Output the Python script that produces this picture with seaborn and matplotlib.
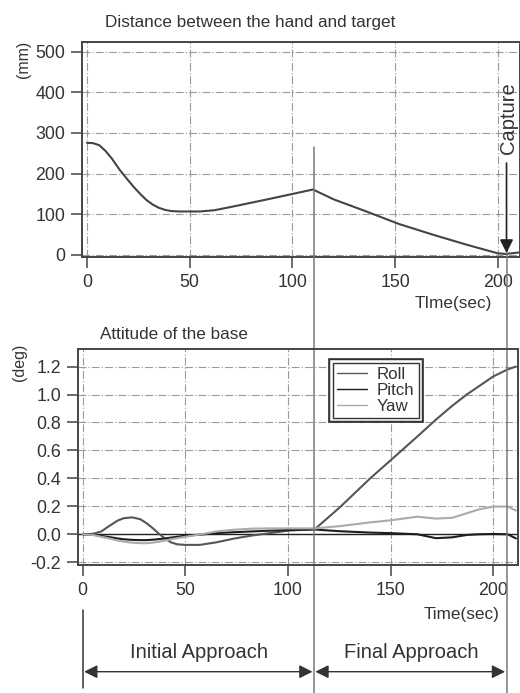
import numpy as np
import pandas as pd
import seaborn as sns
import matplotlib
matplotlib.use("Agg")
import matplotlib.pyplot as plt
import matplotlib.patheffects as pe
from matplotlib.transforms import blended_transform_factory

# ---- distance between the hand and the target (mm) ----
dist_time = [0, 3, 6, 9, 12, 16, 20, 23, 26, 29, 32, 35, 38, 41, 45, 55, 62,
             71, 88, 100, 110, 120, 136, 152, 169, 185, 200, 204, 210]
distance = [276, 275, 270, 256, 238, 209, 184, 166, 150, 135, 124, 116, 111,
            108, 107, 107, 110, 119, 137, 150, 161, 137, 107, 76, 49, 25, 4,
            2.5, 6]

# ---- attitude of the base (deg) ----
att_time = [0, 5, 9, 13, 17, 20, 24, 28, 31, 34, 37, 40, 43, 46, 50, 57, 65,
            74, 82, 90, 100, 113, 125, 140, 150, 163, 172, 180, 187, 193, 200,
            207, 211]
roll = [0.000, 0.003, 0.020, 0.060, 0.098, 0.115, 0.121, 0.108, 0.080, 0.045,
        0.005, -0.030, -0.058, -0.072, -0.076, -0.076, -0.058, -0.030, -0.010,
        0.006, 0.026, 0.036, 0.19, 0.40, 0.53, 0.70, 0.82, 0.92, 1.00, 1.06,
        1.13, 1.18, 1.20]
pitch = [0.000, -0.003, -0.012, -0.020, -0.030, -0.036, -0.040, -0.042,
         -0.042, -0.039, -0.035, -0.030, -0.024, -0.018, -0.010, -0.003, 0.008,
         0.015, 0.020, 0.025, 0.030, 0.034, 0.022, 0.012, 0.008, 0.000, -0.028,
         -0.022, -0.005, 0.000, 0.002, 0.000, -0.030]
yaw = [0.000, -0.005, -0.018, -0.030, -0.045, -0.053, -0.060, -0.064, -0.064,
       -0.060, -0.054, -0.045, -0.036, -0.028, -0.018, -0.002, 0.020, 0.033,
       0.040, 0.042, 0.042, 0.042, 0.058, 0.085, 0.100, 0.126, 0.112, 0.118,
       0.150, 0.178, 0.198, 0.198, 0.170]

series_names = ["Roll", "Pitch", "Yaw"]
series_colors = ["#555555", "#1e1e1e", "#ababab"]

dist_ticks = [0, 100, 200, 300, 400, 500]
att_ticks = [-0.2, 0.0, 0.2, 0.4, 0.6, 0.8, 1.0, 1.2]
time_ticks = [0, 50, 100, 150, 200]

# phase boundaries (s)
t_switch = 112.6
t_capture = 206.4

sns.set_style("white")
plt.rcParams["font.family"] = ["Liberation Sans", "DejaVu Sans"]
TXT = "#333333"
SPINE = "#444444"

fig = plt.figure(figsize=(5.2, 6.93), dpi=100)
ax1 = fig.add_axes([0.1577, 0.6292, 0.8423, 0.3109])
ax2 = fig.add_axes([0.1500, 0.1843, 0.8462, 0.3117])

grid_kw = dict(color="#9a9a9a", linewidth=0.8, linestyle=(0, (7, 2, 1, 2)))


def style_axes(ax):
    for s in ax.spines.values():
        s.set_color(SPINE)
        s.set_linewidth(1.4)
    ax.tick_params(direction="out", length=8, width=1.1, color=SPINE,
                   labelsize=12.8, labelcolor=TXT, pad=4,
                   bottom=True, left=True)
    ax.grid(True, **grid_kw)
    ax.set_axisbelow(True)
    ax.set_xlabel("")
    ax.set_ylabel("")


# top panel
sns.lineplot(x=dist_time, y=distance, ax=ax1, color="#444444", linewidth=1.5)
ax1.set_xlim(-2.4, 210.8)
ax1.set_ylim(-4.9, 525)
ax1.set_xticks(time_ticks)
ax1.set_yticks(dist_ticks)
style_axes(ax1)
ax1.text(0.0525, 1.086, "Distance between the hand and target",
         transform=ax1.transAxes, ha="left", va="center", fontsize=12.3,
         color=TXT)
ax1.text(0.936, -0.218, "TIme(sec)", transform=ax1.transAxes, ha="right",
         va="center", fontsize=12.3, color=TXT)
ax1.text(-0.1347, 0.919, "(mm)", transform=ax1.transAxes, rotation=90,
         ha="center", va="center", fontsize=11.5, color=TXT)

# bottom panel
att = pd.DataFrame({
    "time": att_time * 3,
    "value": roll + pitch + yaw,
    "axis": [n for n in series_names for _ in att_time],
})
ax2.axhline(0, color="#222222", linewidth=1.0, zorder=1.5)
sns.lineplot(data=att, x="time", y="value", hue="axis",
             hue_order=series_names, palette=series_colors, ax=ax2,
             linewidth=1.5, sort=False)
ax2.set_xlim(-2.3, 212.0)
ax2.set_ylim(-0.222, 1.324)
ax2.set_xticks(time_ticks)
ax2.set_yticks(att_ticks)
ax2.set_yticklabels([f"{v:.1f}" for v in att_ticks])
style_axes(ax2)
ax2.text(0.05, 1.069, "Attitude of the base", transform=ax2.transAxes,
         ha="left", va="center", fontsize=12.3, color=TXT)
ax2.text(0.959, -0.230, "Time(sec)", transform=ax2.transAxes, ha="right",
         va="center", fontsize=12.3, color=TXT)
ax2.text(-0.132, 0.941, "(deg)", transform=ax2.transAxes, rotation=90,
         ha="center", va="center", fontsize=11.5, color=TXT)

handles, labels = ax2.get_legend_handles_labels()
leg = ax2.legend(handles, labels, loc="upper left",
                 bbox_to_anchor=(333 / 520, 1 - 363 / 693),
                 bbox_transform=fig.transFigure, borderaxespad=0,
                 fontsize=12.2, handlelength=1.75, handletextpad=0.6,
                 labelspacing=0.05, borderpad=0.25, frameon=True,
                 fancybox=False, framealpha=1, edgecolor="#333333")
for t in leg.get_texts():
    t.set_color(TXT)
for h in leg.get_lines():
    h.set_linewidth(1.0)
frame = leg.get_frame()
frame.set_linewidth(1.0)
frame.set_path_effects([pe.Stroke(linewidth=7, foreground="#333333"),
                        pe.Stroke(linewidth=4, foreground="white"),
                        pe.Normal()])

# phase markers spanning the figure
tr = blended_transform_factory(ax2.transData, fig.transFigure)
ax2.plot([t_switch, t_switch], [1 - 147 / 693, 0], transform=tr,
         color="#7a7a7a", linewidth=1.1, clip_on=False)
ax2.plot([t_capture, t_capture], [1 - 250 / 693, 0], transform=tr,
         color="#7a7a7a", linewidth=1.1, clip_on=False)
ax2.plot([0, 0], [1 - 610 / 693, 1 - 688 / 693], transform=tr,
         color="#333333", linewidth=1.1, clip_on=False)

arrow_y = 1 - 671.7 / 693
ax2.annotate("", xy=(0, arrow_y), xytext=(t_switch, arrow_y),
             xycoords=tr, textcoords=tr, annotation_clip=False,
             arrowprops=dict(arrowstyle="<|-|>", color="#333333", lw=1.0,
                             mutation_scale=20, shrinkA=1, shrinkB=1))
ax2.annotate("", xy=(t_switch, arrow_y), xytext=(t_capture, arrow_y),
             xycoords=tr, textcoords=tr, annotation_clip=False,
             arrowprops=dict(arrowstyle="<|-|>", color="#333333", lw=1.0,
                             mutation_scale=20, shrinkA=1, shrinkB=1))
ax2.text((0 + t_switch) / 2 + 0.3, 1 - 653 / 693, "Initial Approach",
         transform=tr, ha="center", va="center", fontsize=14.5, color=TXT)
ax2.text((t_switch + t_capture) / 2 + 0.7, 1 - 653 / 693, "Final Approach",
         transform=tr, ha="center", va="center", fontsize=14.5, color=TXT)

# capture event
ax2.annotate("", xy=(t_capture, 1 - 253 / 693),
             xytext=(t_capture, 1 - 163 / 693),
             xycoords=tr, textcoords=tr, annotation_clip=False,
             arrowprops=dict(arrowstyle="-|>", color="#222222", lw=1.2,
                             mutation_scale=20, shrinkA=0, shrinkB=0))
ax2.text(t_capture + 1.0, 1 - 118 / 693, "Capture", transform=tr, rotation=90,
         ha="center", va="center", fontsize=14.5, color=TXT)

fig.savefig("out.png", dpi=100)
